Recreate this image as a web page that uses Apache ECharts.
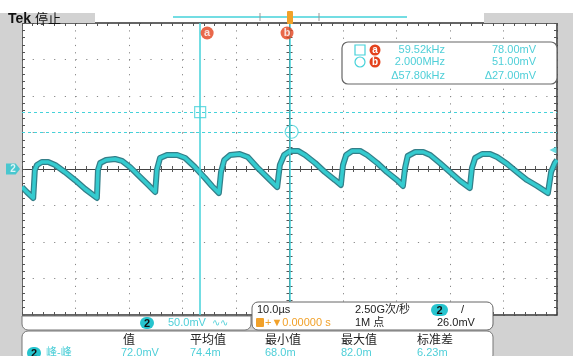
<!DOCTYPE html>
<html><head><meta charset="utf-8">
<script src="https://cdn.jsdelivr.net/npm/echarts@6/dist/echarts.min.js"></script>
<style>html,body{margin:0;padding:0;background:#fff}#c{width:573px;height:356px}</style>
</head><body><div id="c"></div><script>
// ---- data (time in µs, channel 2 in mV) ----
const traceTime = [-50.0,-49.1,-47.9,-47.6,-47.2,-46.3,-45.1,-43.8,-42.0,-40.1,-38.2,-36.0,
  -35.8,-35.4,-34.3,-32.6,-31.3,-29.8,-27.9,-26.4,-25.1,
  -24.8,-24.2,-22.9,-21.0,-19.5,-17.7,-15.8,-14.5,-13.2,
  -12.8,-12.2,-11.1,-9.3,-7.8,-6.1,-4.2,-2.3,
  -1.8,-1.0,0.1,1.6,2.9,4.8,6.6,8.5,9.6,
  10.0,10.6,11.7,13.2,14.5,16.4,18.2,20.1,21.2,
  21.6,22.1,23.5,25.0,26.3,28.1,30.0,31.9,33.7,
  34.1,34.7,36.0,37.5,38.8,40.7,42.5,44.4,46.3,48.3,
  48.9,49.6,50.0];
const traceMv = [-24.7,-31.5,-39.7,-1.4,5.5,9.6,9.6,5.5,-4.1,-15.1,-27.4,-39.7,
  -1.4,8.2,12.3,13.7,11.0,2.7,-11.0,-21.9,-31.5,
  -1.4,15.1,19.2,19.2,15.1,2.7,-12.3,-23.3,-32.9,
  -4.1,12.3,19.2,20.5,16.4,2.7,-11.0,-24.7,
  5.5,19.2,24.7,24.7,19.2,8.2,-4.1,-15.1,-21.9,
  5.5,19.2,24.7,24.7,19.2,8.2,-4.1,-15.1,-23.3,
  1.4,17.8,23.3,23.3,19.2,8.2,-4.1,-16.4,-26.0,
  1.4,15.1,20.5,20.5,16.4,6.8,-4.1,-15.1,-23.3,-32.9,
  -4.1,8.2,12.3];
const cursorNames = ['a','b'];
const cursorTimes = [-16.7, 0.1];
const cursorLevels = [78, 51];
const triggerLevel = 26;
const triggerTime = 0;
const timeRange = [-50, 50];   // 10 µs/div
const voltRange = [-200, 200]; // 50 mV/div
const readoutFreq = ['59.52kHz','2.000MHz','\u039457.80kHz'];
const readoutVolt = ['78.00mV','51.00mV','\u039427.00mV'];
const measHeaders = ['值','平均值','最小值','最大值','标准差'];
const measValues = ['72.0mV','74.4m','68.0m','82.0m','6.23m'];

const CY = '#45d2da', CYT = '#4fcfd8', RED = '#e4421d', GRAY = '#d2d2d2';
const FONT = '"Liberation Sans","Noto Sans CJK SC",sans-serif';
const pts = traceTime.map((t,i)=>[t, traceMv[i]]);

function frameX(pos, extra){ return Object.assign({type:'value', min:timeRange[0], max:timeRange[1], interval:10, position:pos,
  axisLine:{show:true,onZero:false,lineStyle:{color:'#333',width:1.5}},
  axisTick:{show:true,inside:true,length:3,lineStyle:{color:'#555'}},
  minorTick:{show:true,splitNumber:5,length:3,lineStyle:{color:'#555'}},
  axisLabel:{show:false}, splitLine:{show:false}}, extra||{}); }
function frameY(pos, extra){ return Object.assign({type:'value', min:voltRange[0], max:voltRange[1], interval:50, position:pos,
  axisLine:{show:true,onZero:false,lineStyle:{color:'#333',width:1.5}},
  axisTick:{show:true,inside:true,length:3,lineStyle:{color:'#555'}},
  minorTick:{show:true,splitNumber:5,length:3,lineStyle:{color:'#555'}},
  axisLabel:{show:false}, splitLine:{show:false}}, extra||{}); }

const xAxes = [
  frameX('bottom',{splitLine:{show:true,lineStyle:{color:'#888',width:1,type:[1.2,6.1]}}}),
  frameX('top'),
  frameX('bottom',{axisLine:{show:true,onZero:true,onZeroAxisIndex:0,lineStyle:{color:'#444',width:1}}}),
  frameX('bottom',{axisLine:{show:true,onZero:true,onZeroAxisIndex:0,lineStyle:{color:'#444',width:1}},axisTick:{show:true,inside:false,length:3,lineStyle:{color:'#555'}}})
];
const yAxes = [
  frameY('left',{splitLine:{show:true,lineStyle:{color:'#888',width:1,type:[1.2,9.5]}}}),
  frameY('right'),
  frameY('left',{axisLine:{show:true,onZero:true,onZeroAxisIndex:0,lineStyle:{color:'#444',width:1}}}),
  frameY('left',{axisLine:{show:true,onZero:true,onZeroAxisIndex:0,lineStyle:{color:'#444',width:1}},axisTick:{show:true,inside:false,length:3,lineStyle:{color:'#555'}}})
];

function txt(x,y,text,opt){ return Object.assign({type:'text',x:x,y:y,z:110,style:Object.assign({text:text,fill:'#222',font:'11px '+FONT,align:'left',verticalAlign:'middle'},opt||{})}); }
function badge(x,y,w,h,label){ return [
  {type:'rect',z:110,shape:{x:x,y:y,width:w,height:h,r:h/2},style:{fill:'#27c4ce'}},
  txt(x+w/2,y+h/2+0.5,label,{align:'center',font:'bold 11px '+FONT,fill:'#111'})]; }

const graphic = [
  {type:'rect',z:90,shape:{x:0,y:13,width:22,height:343},style:{fill:GRAY}},
  {type:'rect',z:90,shape:{x:0,y:13,width:95,height:10},style:{fill:GRAY}},
  {type:'rect',z:90,shape:{x:484,y:13,width:89,height:10},style:{fill:GRAY}},
  {type:'rect',z:90,shape:{x:558,y:13,width:15,height:343},style:{fill:GRAY}},
  {type:'rect',z:90,shape:{x:0,y:316,width:573,height:40},style:{fill:GRAY}},
  txt(8,19,'Tek',{font:'bold 14px '+FONT,fill:'#111'}),
  txt(35,19,'停止',{font:'13px '+FONT,fill:'#111'}),
  // record view bar
  {type:'line',z:90,shape:{x1:173,y1:17,x2:407,y2:17},style:{stroke:CY,lineWidth:1.5}},
  {type:'line',z:90,shape:{x1:260,y1:13,x2:260,y2:21},style:{stroke:'#999',lineWidth:1}},
  {type:'line',z:90,shape:{x1:319,y1:13,x2:319,y2:21},style:{stroke:'#999',lineWidth:1}},
  {type:'rect',z:95,shape:{x:287,y:11,width:6,height:13,r:1},style:{fill:'#f1a12a'}},
  // cursor readout box
  {type:'rect',z:100,shape:{x:342,y:42,width:215,height:42,r:6},style:{fill:'#fff',stroke:'#666',lineWidth:1.2}},
  {type:'rect',z:110,shape:{x:355,y:45,width:10,height:10},style:{fill:'none',stroke:CY,lineWidth:1.2}},
  {type:'circle',z:110,shape:{cx:360,cy:62,r:5},style:{fill:'none',stroke:CY,lineWidth:1.2}},
  {type:'circle',z:110,shape:{cx:375,cy:50,r:5.5},style:{fill:RED}},
  txt(375,50,'a',{align:'center',fill:'#fff',font:'bold 10px '+FONT}),
  {type:'circle',z:110,shape:{cx:375,cy:62,r:5.5},style:{fill:RED}},
  txt(375,62,'b',{align:'center',fill:'#fff',font:'bold 10px '+FONT}),
  txt(445,50,readoutFreq[0],{align:'right',fill:CYT}),
  txt(445,62,readoutFreq[1],{align:'right',fill:CYT}),
  txt(445,76,readoutFreq[2],{align:'right',fill:CYT}),
  txt(536,50,readoutVolt[0],{align:'right',fill:CYT}),
  txt(536,62,readoutVolt[1],{align:'right',fill:CYT}),
  txt(536,76,readoutVolt[2],{align:'right',fill:CYT}),
  // channel bar
  {type:'rect',z:100,shape:{x:22,y:316,width:229,height:14,r:[0,0,6,6]},style:{fill:'#fff',stroke:'#777',lineWidth:1}},
  ...badge(140,317,14,12,'2'),
  txt(168,323,'50.0mV',{fill:CYT}),
  txt(212,323,'\u223F\u223F',{fill:CYT,font:'10px '+FONT}),
  // timebase box
  {type:'rect',z:100,shape:{x:252,y:302,width:241,height:28,r:6},style:{fill:'#fff',stroke:'#666',lineWidth:1}},
  txt(257,310,'10.0\u00B5s',{fill:'#222'}),
  {type:'rect',z:110,shape:{x:256,y:318,width:8,height:9,r:1},style:{fill:'#f1a12a'}},
  txt(265,323,'+\u25BC0.00000 s',{fill:'#f1a12a'}),
  txt(355,310,'2.50G次/秒',{fill:'#222'}),
  txt(355,323,'1M 点',{fill:'#222'}),
  ...badge(431,304,17,12,'2'),
  txt(461,310,'/',{fill:'#222'}),
  txt(437,323,'26.0mV',{fill:'#222'}),
  // measurement table
  {type:'rect',z:100,shape:{x:22,y:331,width:471,height:30,r:6},style:{fill:'#fff',stroke:'#777',lineWidth:1}},
  txt(123,341,measHeaders[0],{font:'12px '+FONT}),
  txt(190,341,measHeaders[1],{font:'12px '+FONT}),
  txt(265,341,measHeaders[2],{font:'12px '+FONT}),
  txt(341,341,measHeaders[3],{font:'12px '+FONT}),
  txt(417,341,measHeaders[4],{font:'12px '+FONT}),
  ...badge(27,347,14,12,'2'),
  txt(46,353,'峰-峰',{fill:CYT,font:'11px '+FONT}),
  txt(121,353,measValues[0],{fill:CYT}),
  txt(190,353,measValues[1],{fill:CYT}),
  txt(265,353,measValues[2],{fill:CYT}),
  txt(341,353,measValues[3],{fill:CYT}),
  txt(417,353,measValues[4],{fill:CYT})
];

const chart = echarts.init(document.getElementById('c'), null, {renderer:'canvas'});
chart.setOption({
  animation:false,
  backgroundColor:'#fff',
  textStyle:{fontFamily:FONT},
  grid:{left:22,top:23,width:535,height:292,containLabel:false,outerBoundsMode:'none',show:false},
  xAxis:xAxes, yAxis:yAxes,
  graphic:graphic,
  series:[
    {type:'line',data:pts,showSymbol:false,z:3,lineStyle:{color:'#347f89',width:6,join:'round'}},
    {type:'line',data:pts,showSymbol:false,z:4,lineStyle:{color:'#34cbcf',width:3.5,join:'round'}},
    {type:'line',data:[],z:5,markLine:{symbol:'none',silent:true,animation:false,label:{show:false},
      data:[
        {xAxis:cursorTimes[0],lineStyle:{color:CY,width:1.5,type:'solid'}},
        {xAxis:cursorTimes[1],lineStyle:{color:CY,width:1.5,type:'solid'}},
        {yAxis:cursorLevels[0],lineStyle:{color:CY,width:1,type:[3,3]}},
        {yAxis:cursorLevels[1],lineStyle:{color:CY,width:1,type:[3,3]}}
      ]}},
    {type:'scatter',z:6,symbol:'rect',symbolSize:11,data:[[cursorTimes[0],cursorLevels[0]]],
      itemStyle:{color:'rgba(0,0,0,0)',borderColor:CY,borderWidth:1.2}},
    {type:'scatter',z:6,symbol:'circle',symbolSize:13,data:[[cursorTimes[1]+0.3,cursorLevels[1]]],
      itemStyle:{color:'rgba(0,0,0,0)',borderColor:CY,borderWidth:1.2}},
    {type:'scatter',z:120,clip:false,symbol:'circle',symbolSize:13,
      data:cursorNames.map((n,i)=>({value:[cursorTimes[i],voltRange[1]],symbolOffset:[i===0?7:-3,10],
        label:{show:true,position:'inside',formatter:n,color:'#fff',fontWeight:'bold',fontSize:11}})),
      itemStyle:{color:RED}},
    {type:'scatter',z:120,clip:false,symbol:'path://M0,0 L9,0 L13,5 L9,10 L0,10 Z',symbolSize:[14,11],symbolOffset:[-9,0],
      data:[[timeRange[0],0]],itemStyle:{color:'#27c4ce'},
      label:{show:true,position:'inside',formatter:'2',color:'#fff',fontWeight:'bold',fontSize:10}},
    {type:'scatter',z:120,clip:false,symbol:'triangle',symbolRotate:90,symbolSize:7,symbolOffset:[-4,0],
      data:[[timeRange[1],triggerLevel]],itemStyle:{color:CY}}
  ]
});
</script></body></html>
